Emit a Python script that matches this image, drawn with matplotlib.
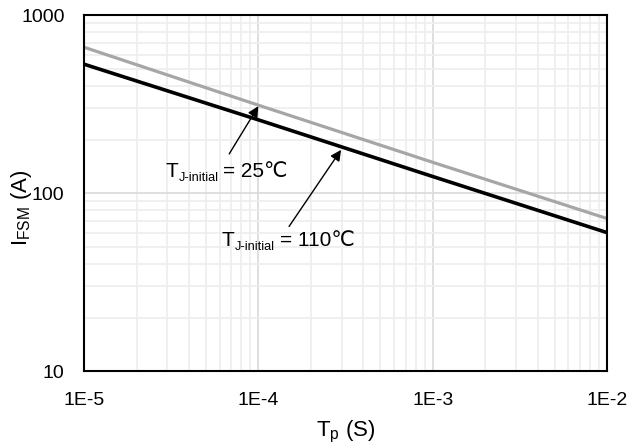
import matplotlib
matplotlib.use('Agg')
import matplotlib.pyplot as plt
from matplotlib.ticker import LogLocator, FixedLocator

# pulse width (s) and surge current (A)
tp = [1e-5, 1e-4, 1e-3, 1e-2]
ifsm_25 = [660, 312, 149, 72]
ifsm_110 = [530, 258, 124, 60]

xticks = [1e-5, 1e-4, 1e-3, 1e-2]
xticklabels = ['1E-5', '1E-4', '1E-3', '1E-2']
yticks = [10, 100, 1000]
yticklabels = ['10', '100', '1000']

fonts = ['Liberation Sans', 'DejaVu Sans']
plt.rcParams['font.family'] = fonts

fig = plt.figure(figsize=(6.32, 4.45), dpi=100)
ax = fig.add_axes([0.133, 0.166, 0.8275, 0.80])

ax.set_xscale('log')
ax.set_yscale('log')
ax.set_xlim(1e-5, 1e-2)
ax.set_ylim(10, 1000)

#grid: major a bit darker than minor
ax.xaxis.set_minor_locator(LogLocator(base=10, subs=range(2, 10)))
ax.yaxis.set_minor_locator(LogLocator(base=10, subs=range(2, 10)))
ax.grid(which='major', color='#d9d9d9', lw=1.2)
ax.grid(which='minor', color='#eeeeee', lw=1.2)
ax.set_axisbelow(True)

ax.plot(tp, ifsm_25, color='#a6a6a6', lw=2.3, solid_capstyle='butt')
ax.plot(tp, ifsm_110, color='black', lw=2.6, solid_capstyle='butt')

ax.xaxis.set_major_locator(FixedLocator(xticks))
ax.set_xticklabels(xticklabels)
ax.yaxis.set_major_locator(FixedLocator(yticks))
ax.set_yticklabels(yticklabels)
ax.tick_params(which='both', length=0, labelsize=14)
ax.tick_params(axis='x', pad=15)
ax.tick_params(axis='y', pad=14)
ax.xaxis.set_minor_formatter(plt.NullFormatter())
ax.yaxis.set_minor_formatter(plt.NullFormatter())

for s in ax.spines.values():
    s.set_linewidth(1.5)
    s.set_color('black')

ax.set_xlabel('T$_\\mathregular{p}$ (S)', fontsize=16)
ax.set_ylabel('I$_\\mathregular{FSM}$ (A)', fontsize=16)
ax.xaxis.set_label_coords(0.5, -0.135)
ax.yaxis.set_label_coords(-0.12, 0.46)
ax.yaxis.label.set_verticalalignment('center')

arrow = dict(arrowstyle='-|>', color='black', lw=1.0, mutation_scale=16,
             shrinkA=0, shrinkB=0)
ax.annotate('', xy=(1.0e-4, 308), xytext=(6.8e-5, 166), arrowprops=arrow)
ax.annotate('', xy=(2.98e-4, 175), xytext=(1.5e-4, 65), arrowprops=arrow)


def temp_label(x, y, temp):
    #T, then the small subscript, then the rest, chained left to right
    t = ax.text(x, y, 'T', fontsize=15, ha='left', va='baseline', family=fonts)
    sub = ax.annotate('J-initial', xy=(1, y), xycoords=(t, 'data'),
                      xytext=(0.3, -3), textcoords='offset points',
                      fontsize=9.2, ha='left', va='baseline', family=fonts)
    ax.annotate('= ' + temp + '℃', xy=(1, y), xycoords=(sub, 'data'),
                xytext=(3.5, 0), textcoords='offset points',
                fontsize=15, ha='left', va='baseline', family=fonts)


temp_label(2.92e-5, 123.6, '25')
temp_label(6.17e-5, 50.4, '110')

fig.savefig('out.png', dpi=100)
